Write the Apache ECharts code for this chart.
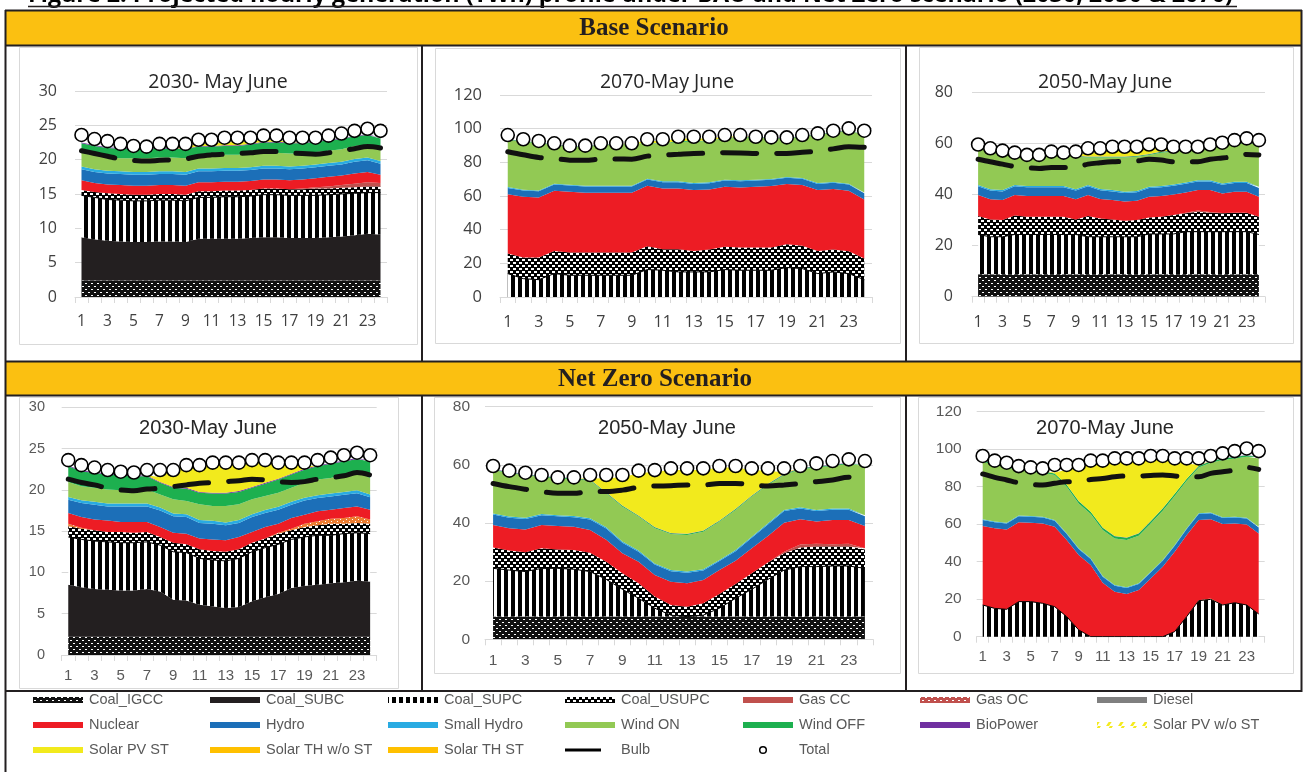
<!DOCTYPE html>
<html>
<head>
<meta charset="utf-8">
<script src="https://cdn.jsdelivr.net/npm/echarts@6/dist/echarts.min.js"></script>
<style>
  html, body { margin: 0; padding: 0; background: #fff; }
  #chart { width: 1304px; height: 772px; }
</style>
</head>
<body>
<div id="chart"></div>
<script>
// ---------- categories ----------
const HOURS = ['1','2','3','4','5','6','7','8','9','10','11','12','13','14','15','16','17','18','19','20','21','22','23','24'];

// ---------- Base scenario, 2030 (GW) ----------
const B30_IGCC   = [2.4,2.4,2.4,2.4,2.4,2.4,2.4,2.4,2.4,2.4,2.4,2.4,2.4,2.4,2.4,2.4,2.4,2.4,2.4,2.4,2.4,2.4,2.4,2.4];
const B30_SUBC   = [6.3,6.0,5.8,5.7,5.6,5.6,5.7,5.7,5.6,6.1,6.1,6.1,6.1,6.2,6.3,6.3,6.2,6.2,6.2,6.3,6.4,6.6,6.8,6.7];
const B30_SUPC   = [6.1,6.1,6.0,6.0,6.0,6.0,6.0,6.0,6.0,6.0,6.0,6.1,6.1,6.1,6.2,6.2,6.2,6.2,6.2,6.2,6.2,6.1,6.0,6.1];
const B30_USUPC  = [0.8,0.8,0.9,0.9,0.9,0.9,0.9,0.9,0.9,0.9,0.9,0.9,0.9,0.9,0.9,0.9,0.9,0.9,1.0,0.9,0.9,0.9,0.9,0.9];
const B30_GASCC  = [0,0,0,0,0,0,0,0,0,0,0,0,0,0,0,0,0,0.1,0.2,0.3,0.4,0.5,0.6,0.5];
const B30_NUC    = [1.4,1.3,1.3,1.3,1.3,1.3,1.3,1.3,1.3,1.3,1.3,1.3,1.3,1.3,1.3,1.3,1.3,1.3,1.3,1.4,1.4,1.5,1.5,1.2];
const B30_HYDRO  = [1.6,1.6,1.6,1.6,1.6,1.6,1.6,1.6,1.6,1.6,1.6,1.6,1.6,1.6,1.6,1.6,1.6,1.6,1.6,1.6,1.6,1.7,1.7,1.6];
const B30_SHYDRO = [0.4,0.4,0.4,0.4,0.4,0.4,0.4,0.4,0.4,0.4,0.4,0.4,0.4,0.4,0.4,0.4,0.4,0.4,0.4,0.4,0.4,0.4,0.4,0.4];
const B30_WON    = [2.0,2.0,1.9,1.9,2.0,2.0,2.0,2.0,2.0,1.9,1.9,1.9,1.9,1.9,1.9,1.9,1.9,1.8,1.8,1.8,1.8,1.9,1.9,1.9];
const B30_WOFF   = [1.4,1.4,1.4,1.4,1.4,1.3,1.3,1.3,1.3,1.3,1.3,1.3,1.3,1.4,1.5,1.5,1.5,1.5,1.5,1.5,1.5,1.4,1.4,1.4];
const B30_BIO    = [0.1,0.1,0.1,0.1,0.1,0.1,0.1,0.1,0.1,0.1,0.1,0.1,0.1,0.1,0.1,0.1,0.1,0.1,0.1,0.1,0.1,0.1,0.1,0.1];
const B30_PVST   = [0,0,0,0,0,0,0,0.1,0.2,0.3,0.4,0.4,0.5,0.4,0.3,0.2,0.1,0,0,0,0,0,0,0];
const B30_TOTAL  = [23.6,23.0,22.7,22.3,22.0,21.9,22.3,22.3,22.3,22.9,22.9,23.2,23.2,23.2,23.5,23.5,23.2,23.2,23.2,23.5,23.8,24.2,24.5,24.2];
const B30_BULB   = [21.3,20.9,20.5,20.1,19.9,19.8,19.9,20.0,20.1,20.5,20.7,20.8,20.9,21.0,21.2,21.2,21.0,20.9,20.8,21.0,21.3,21.6,21.9,21.7];

// ---------- Base scenario, 2070 ----------
const B70_SUPC   = [13.9,10.9,10.3,13.9,12.9,12.9,12.9,12.9,12.9,16.3,15.9,14.9,14.9,14.9,16.3,15.9,15.9,15.9,17.5,16.9,13.9,14.9,13.9,10.3];
const B70_USUPC  = [11.9,12.5,13.1,13.5,13.5,13.5,13.5,13.5,13.5,13.9,12.5,13.5,12.5,13.3,13.5,13.5,13.5,13.5,13.8,13.5,13.5,13.3,13.3,12.5];
const B70_NUC    = [35.3,36.1,35.7,35.7,36.1,35.5,35.5,35.5,35.5,35.9,36.1,36.1,36.1,35.7,35.7,35.7,36.1,36.5,35.8,36.1,36.1,35.9,35.9,35.1];
const B70_HYDRO  = [3.7,3.7,3.7,3.7,3.7,3.7,3.7,3.7,3.7,3.7,3.7,3.7,3.7,3.7,3.7,3.7,3.7,3.7,3.7,3.7,3.7,3.7,3.7,3.7];
const B70_SHYDRO = [0.5,0.5,0.5,0.5,0.5,0.5,0.5,0.5,0.5,0.5,0.5,0.5,0.5,0.5,0.5,0.5,0.5,0.5,0.5,0.5,0.5,0.5,0.5,0.5];
const B70_WON    = [28.0,28.6,28.0,23.0,22.6,22.8,24.2,24.2,24.3,21.0,22.1,23.6,24.6,24.5,24.3,25.5,25.1,24.1,22.9,24.5,28.5,29.3,31.5,34.1];
const B70_WOFF   = [0.3,0.3,0.3,0.3,0.3,0.3,0.3,0.3,0.3,0.3,0.3,0.3,0.3,0.3,0.3,0.3,0.3,0.3,0.3,0.3,0.3,0.3,0.3,0.3];
const B70_BIO    = [0.1,0.1,0.1,0.1,0.1,0.1,0.1,0.1,0.1,0.1,0.1,0.1,0.1,0.1,0.1,0.1,0.1,0.1,0.1,0.1,0.1,0.1,0.1,0.1];
const B70_PVST   = [0,0,0,0,0,0,0,0,0.5,1.0,1.5,1.5,1.5,1.2,0.8,0.4,0,0,0,0,0,0,0,0];
const B70_TOTAL  = [96.2,93.7,92.7,91.3,89.9,89.9,91.3,91.3,91.3,93.7,93.7,95.2,95.2,95.2,96.2,96.2,95.2,94.8,94.8,96.2,97.2,98.8,100.2,98.8];
const B70_BULB   = [86.3,84.5,82.9,82.3,81.3,81.2,81.9,82.0,81.9,83.7,84.3,84.8,85.3,85.5,85.7,85.6,85.3,85.2,85.3,86.0,86.7,88.0,89.3,88.9];

// ---------- Base scenario, 2050 ----------
const B50_IGCC   = [8.8,8.8,8.8,8.8,8.8,8.8,8.8,8.8,8.8,8.8,8.8,8.8,8.8,8.8,8.8,8.8,8.8,8.8,8.8,8.8,8.8,8.8,8.8,8.8];
const B50_SUPC   = [15.6,14.7,14.7,15.6,15.6,15.6,15.6,15.6,15.6,14.7,14.7,14.7,14.7,14.7,15.8,15.8,15.8,16.7,16.7,16.7,16.7,16.7,16.7,15.6];
const B50_USUPC  = [7.2,6.8,6.6,7.4,7.0,7.0,7.0,7.0,5.9,8.1,7.2,6.8,6.3,6.6,6.5,6.8,7.4,7.2,7.8,7.4,7.2,7.4,7.4,7.0];
const B50_GASCC  = [0,0,0,0,0,0,0,0,0,0,0,0,0,0,0,0,0,0.2,0.5,0.3,0.1,0,0,0];
const B50_NUC    = [8.3,7.9,7.8,8.1,8.1,8.1,8.1,8.1,7.9,8.3,7.6,7.6,7.5,7.5,8.1,8.1,8.1,8.0,8.0,8.6,7.7,8.3,8.3,7.8];
const B50_HYDRO  = [3.4,3.4,3.4,3.4,3.4,3.4,3.4,3.4,3.4,3.4,3.4,3.4,3.4,3.4,3.4,3.4,3.4,3.4,3.4,3.4,3.4,3.4,3.4,3.4];
const B50_SHYDRO = [0.5,0.5,0.5,0.5,0.5,0.5,0.5,0.5,0.5,0.5,0.5,0.5,0.5,0.5,0.5,0.5,0.5,0.5,0.5,0.5,0.5,0.5,0.5,0.5];
const B50_WON    = [14.4,15.4,15.1,12.4,12.2,12.2,12.5,12.8,12.8,10.8,12.4,12.8,13.4,13.4,12.5,13.1,12.9,12.7,12.5,12.9,14.7,14.6,15.3,16.4];
const B50_WOFF   = [0.3,0.3,0.3,0.3,0.3,0.3,0.3,0.3,0.3,0.3,0.3,0.3,0.3,0.3,0.3,0.3,0.3,0.3,0.3,0.3,0.3,0.3,0.3,0.3];
const B50_BIO    = [0.1,0.1,0.1,0.1,0.1,0.1,0.1,0.1,0.1,0.1,0.1,0.1,0.1,0.1,0.1,0.1,0.1,0.1,0.1,0.1,0.1,0.1,0.1,0.1];
const B50_PVST   = [0,0,0,0,0,0,0,0,0.3,1.2,1.8,2.2,2.3,2.3,2.0,1.5,0.8,0.2,0,0,0,0,0,0];
const B50_TOTAL  = [59.7,58.2,57.3,56.5,55.6,55.6,56.9,56.5,56.9,58.2,58.2,58.8,58.8,58.8,59.7,59.7,58.8,58.8,58.8,59.7,60.4,61.4,62.1,61.4];
const B50_BULB   = [53.9,52.9,52.0,51.0,50.6,50.3,50.7,50.7,50.7,52.0,52.5,52.9,53.1,53.2,53.9,53.6,52.9,52.9,52.9,53.9,54.4,54.9,55.8,55.6];

// ---------- Net Zero scenario, 2030 ----------
const N30_IGCC   = [2.2,2.2,2.2,2.2,2.2,2.2,2.2,2.2,2.2,2.2,2.2,2.2,2.2,2.2,2.2,2.2,2.2,2.2,2.2,2.2,2.2,2.2,2.2,2.2];
const N30_SUBC   = [6.3,6.0,5.8,5.7,5.6,5.6,5.8,5.5,4.5,4.4,3.9,3.7,3.5,3.6,4.3,4.8,5.2,5.9,6.2,6.3,6.5,6.6,6.8,6.7];
const N30_SUPC   = [5.8,5.8,5.8,5.8,5.8,5.8,5.7,5.6,5.8,5.8,5.6,5.6,5.7,5.9,6.0,6.0,6.0,5.9,5.9,6.0,5.8,5.9,5.8,5.8];
const N30_USUPC  = [1.3,1.3,1.3,1.2,1.3,1.2,1.2,1.0,1.1,1.0,1.1,1.1,1.1,1.1,1.1,1.1,1.3,1.1,1.2,1.2,1.4,1.2,1.2,1.2];
const N30_GASOC  = [0.3,0.1,0,0,0,0,0,0,0,0,0,0,0,0,0,0,0.1,0.2,0.4,0.5,0.6,0.7,0.8,0.5];
const N30_NUC    = [1.3,1.3,1.3,1.4,1.2,1.3,1.2,1.2,1.2,1.3,1.3,1.4,1.4,1.5,1.3,1.4,1.1,1.3,1.1,1.2,1.1,1.2,1.2,1.2];
const N30_HYDRO  = [1.6,1.7,1.8,1.7,1.9,1.9,1.9,2.0,2.0,2.0,1.9,1.9,1.8,1.7,1.8,1.7,1.7,1.6,1.7,1.6,1.6,1.6,1.6,1.5];
const N30_SHYDRO = [0.35,0.35,0.35,0.35,0.35,0.35,0.35,0.35,0.35,0.35,0.35,0.35,0.35,0.35,0.35,0.35,0.35,0.35,0.35,0.35,0.35,0.35,0.35,0.35];
const N30_WON    = [1.8,1.7,1.7,1.7,1.6,1.6,1.7,1.6,1.7,1.6,1.9,1.8,2.0,1.9,1.8,1.7,1.7,1.7,1.8,1.9,1.9,2.1,2.2,2.0];
const N30_WOFF   = [1.9,1.8,1.8,1.8,1.8,1.7,1.6,1.4,1.4,1.5,1.4,1.5,1.5,1.5,1.4,1.5,1.6,1.6,1.6,1.6,1.7,1.6,1.6,2.0];
const N30_BIO    = [0.1,0.1,0.1,0.1,0.1,0.1,0.1,0.1,0.1,0.1,0.1,0.1,0.1,0.1,0.1,0.1,0.1,0.1,0.1,0.1,0.1,0.1,0.1,0.1];
const N30_PVST   = [0,0,0,0,0,0,0,0.6,2.2,2.8,3.4,3.8,3.8,3.6,3.3,2.8,1.9,1.1,0.3,0,0,0,0,0];
const N30_TOTAL  = [23.6,23.0,22.7,22.4,22.2,22.1,22.4,22.4,22.4,23.0,23.0,23.3,23.3,23.3,23.6,23.6,23.3,23.3,23.3,23.6,23.9,24.2,24.5,24.2];
const N30_BULB   = [21.3,20.9,20.6,20.2,20.0,19.9,20.1,20.2,20.4,20.6,20.8,20.9,21.0,21.1,21.3,21.2,21.0,20.9,21.0,21.3,21.5,21.7,22.1,21.8];

// ---------- Net Zero scenario, 2050 ----------
const N50_IGCC   = [7.8,7.8,7.8,7.8,7.8,7.8,7.8,7.8,7.8,7.8,7.8,7.8,7.8,7.8,7.8,7.8,7.8,7.8,7.8,7.8,7.8,7.8,7.8,7.8];
const N50_SUPC   = [16.6,16.0,15.5,16.6,16.6,16.3,15.5,12.8,9.4,6.3,2.9,0.5,0,0.5,2.9,6.3,9.4,12.8,16.0,17.2,17.2,17.4,17.4,16.6];
const N50_USUPC  = [7.2,6.7,6.6,6.9,6.5,6.6,6.5,6.1,5.5,5.2,4.0,3.5,3.4,4.1,4.9,4.9,5.5,5.8,5.8,6.6,6.9,6.7,6.7,6.5];
const N50_GASCC  = [0,0,0,0,0,0,0,0,0,0,0,0,0,0,0,0,0,0,0.5,1.0,1.0,0.8,1.0,0.4];
const N50_NUC    = [7.7,7.7,7.9,8.0,8.1,8.0,7.8,7.5,6.9,7.4,7.4,8.0,8.1,8.0,8.2,8.0,8.6,9.1,10.0,8.7,7.6,8.3,8.1,7.7];
const N50_HYDRO  = [3.6,3.6,3.6,3.4,3.3,3.3,3.6,3.9,3.6,3.4,3.6,3.6,3.6,3.3,3.1,3.3,3.6,4.0,4.0,3.7,3.6,3.6,3.6,3.3];
const N50_SHYDRO = [0.4,0.4,0.4,0.4,0.4,0.4,0.4,0.4,0.4,0.4,0.4,0.4,0.4,0.4,0.4,0.4,0.4,0.4,0.4,0.4,0.4,0.4,0.4,0.4];
const N50_WON    = [14.9,14.9,14.7,12.6,12.7,12.6,13.0,11.7,12.0,11.7,12.1,12.4,12.6,12.9,13.2,13.8,13.8,13.2,12.0,13.1,14.6,14.6,15.3,16.9];
const N50_WOFF   = [0.3,0.3,0.3,0.3,0.3,0.3,0.3,0.3,0.3,0.3,0.3,0.3,0.3,0.3,0.3,0.3,0.3,0.3,0.3,0.3,0.3,0.3,0.3,0.3];
const N50_BIO    = [0.1,0.1,0.1,0.1,0.1,0.1,0.1,0.1,0.1,0.1,0.1,0.1,0.1,0.1,0.1,0.1,0.1,0.1,0.1,0.1,0.1,0.1,0.1,0.1];
const N50_PVST   = [0,0,0,0,0,0,0.3,4.8,9.7,14.5,19.0,21.6,21.9,20.8,18.2,14.2,8.7,4.5,0.5,0,0,0,0,0];
const N50_TOTAL  = [59.6,58.0,57.3,56.5,55.7,55.7,56.5,56.5,56.5,58.0,58.2,58.8,58.8,58.8,59.6,59.6,58.8,58.8,58.8,59.6,60.5,61.3,61.9,61.3];
const N50_BULB   = [53.6,52.5,51.6,50.8,50.2,50.2,50.8,50.8,51.3,52.3,52.7,52.8,53.1,53.1,53.6,53.6,53.1,52.7,53.1,53.6,54.2,54.8,55.7,55.0];

// ---------- Net Zero scenario, 2070 ----------
const N70_SUPC   = [16.9,15.1,14.6,18.7,18.7,17.8,16.0,10.7,3.6,0,0,0,0,0,0,0,2.7,10.7,19.2,19.9,16.9,18.1,16.9,12.1];
const N70_GASOC  = [0,0,0,0,0,0,0,0,0,0,0,0,0,0,0,0,0,0,0.3,0.5,0.2,0,0,0];
const N70_NUC    = [42.1,42.7,42.6,42.3,42.1,42.6,42.7,40.9,40.0,38.2,28.8,24.0,22.8,24.9,31.1,37.3,42.6,43.5,42.7,42.2,43.0,42.3,43.0,43.0];
const N70_HYDRO  = [3.2,3.2,3.2,3.2,3.2,3.2,3.2,3.2,3.2,3.2,3.2,3.2,3.2,3.2,3.2,3.2,3.2,3.2,3.2,3.2,3.2,3.2,3.2,3.2];
const N70_SHYDRO = [0.4,0.4,0.4,0.4,0.4,0.4,0.4,0.4,0.4,0.4,0.4,0.4,0.4,0.4,0.4,0.4,0.4,0.4,0.4,0.4,0.4,0.4,0.4,0.4];
const N70_WON    = [30.7,30.2,29.5,24.3,23.6,23.5,23.9,24.8,23.9,23.6,24.5,24.8,25.2,25.4,25.7,26.3,26.1,25.4,24.5,26.6,30.5,31.1,32.5,36.4];
const N70_WOFF   = [0.8,0.8,0.8,0.8,0.8,0.8,0.8,1.0,1.2,1.2,1.2,1.2,1.2,1.2,1.2,1.2,1.2,1.0,0.8,0.8,0.8,0.8,0.8,0.8];
const N70_BIO    = [0.1,0.1,0.1,0.1,0.1,0.1,0.1,0.1,0.1,0.1,0.1,0.1,0.1,0.1,0.1,0.1,0.1,0.1,0.1,0.1,0.1,0.1,0.1,0.1];
const N70_PVST   = [0,0,0,0,0,0,0.5,8.0,17.8,25.3,34.3,40.0,40.8,38.5,32.9,26.1,17.4,8.0,0.5,0,0,0,0,0];
const N70_TOTAL  = [96.4,93.9,92.8,91.0,90.3,89.8,91.6,91.6,91.6,93.9,93.9,95.1,95.1,95.1,96.4,96.4,95.1,95.1,95.1,96.4,97.8,99.0,100.4,99.0];
const N70_BULB   = [86.8,85.0,83.6,82.1,81.3,80.9,81.8,82.7,82.7,83.8,84.4,85.3,85.7,85.7,86.0,86.2,85.7,85.3,85.3,87.1,88.0,88.9,90.3,89.2];

// ---------- legend layout (text shown in the key) ----------
const KEY_ROWS = [
  ['Coal_IGCC', 'Coal_SUBC', 'Coal_SUPC', 'Coal_USUPC', 'Gas CC', 'Gas OC', 'Diesel'],
  ['Nuclear', 'Hydro', 'Small Hydro', 'Wind ON', 'Wind OFF', 'BioPower', 'Solar PV w/o ST'],
  ['Solar PV ST', 'Solar TH w/o ST', 'Solar TH ST', 'Bulb', 'Total']
];

// ---------- fills ----------
function tile(w, h, paint) {
  const c = document.createElement('canvas');
  c.width = w; c.height = h;
  paint(c.getContext('2d'));
  return { image: c, repeat: 'repeat' };
}
const FILL_IGCC = tile(6, 6, g => {
  g.fillStyle = '#111'; g.fillRect(0, 0, 6, 6);
  g.fillStyle = '#fff'; g.fillRect(1, 1, 2, 1); g.fillRect(4, 4, 2, 1);
});
const FILL_SUPC = tile(7, 4, g => {
  g.fillStyle = '#fff'; g.fillRect(0, 0, 7, 4);
  g.fillStyle = '#000'; g.fillRect(0, 0, 4, 4);
});
const FILL_USUPC = tile(6, 6, g => {
  g.fillStyle = '#000'; g.fillRect(0, 0, 6, 6);
  g.fillStyle = '#fff'; g.fillRect(0, 1, 3, 2); g.fillRect(3, 4, 3, 2);
});
const FILL_GASOC = tile(6, 4, g => {
  g.fillStyle = '#ED7D31'; g.fillRect(0, 0, 6, 4);
  g.fillStyle = '#fff'; g.fillRect(1, 1, 1, 1); g.fillRect(4, 3, 1, 1);
});
const FILL_GASOC_KEY = tile(6, 6, g => {
  g.fillStyle = '#C0504D'; g.fillRect(0, 0, 6, 6);
  g.fillStyle = '#fff'; g.fillRect(1, 1, 2, 1); g.fillRect(4, 4, 2, 1);
});
const FILL_PV_KEY = tile(12, 6, g => {
  g.fillStyle = '#fff'; g.fillRect(0, 0, 12, 6);
  g.fillStyle = '#F4EA1E';
  g.beginPath(); g.moveTo(2, 6); g.lineTo(6, 0); g.lineTo(9, 0); g.lineTo(5, 6); g.closePath(); g.fill();
});

const STACK_ORDER = ['Coal_IGCC','Coal_SUBC','Coal_SUPC','Coal_USUPC','Gas CC','Gas OC','Diesel','Nuclear','Hydro',
  'Small Hydro','Wind ON','Wind OFF','BioPower','Solar PV w/o ST','Solar PV ST','Solar TH w/o ST','Solar TH ST'];

const AREA_FILL = {
  'Coal_IGCC': FILL_IGCC, 'Coal_SUBC': '#231F20', 'Coal_SUPC': FILL_SUPC, 'Coal_USUPC': FILL_USUPC,
  'Gas CC': '#C0504D', 'Gas OC': FILL_GASOC, 'Diesel': '#7F7F7F', 'Nuclear': '#ED1C24',
  'Hydro': '#1C6FB8', 'Small Hydro': '#29ABE2', 'Wind ON': '#92C954', 'Wind OFF': '#1DB04F',
  'BioPower': '#7030A0', 'Solar PV w/o ST': '#F4EA1E', 'Solar PV ST': '#F2EA1D',
  'Solar TH w/o ST': '#FFC000', 'Solar TH ST': '#FFC000'
};
const KEY_FILL = Object.assign({}, AREA_FILL, { 'Gas OC': FILL_GASOC_KEY, 'Solar PV w/o ST': FILL_PV_KEY });

// ---------- panels ----------
const ROW1_FONT = '"Open Sans", "Noto Sans", sans-serif';
const ROW2_FONT = '"Liberation Sans", Arial, sans-serif';

const PANELS = [
  { title: '2030- May June', tx: 218, ty: 82, font: ROW1_FONT, tsize: 19.5, ysize: 16, xsize: 15.5, lab: '#404040',
    grid: { left: 75, top: 91, width: 312, height: 206 }, yMax: 30, yStep: 5, xMargin: 17, yMargin: 18,
    frame: [19, 47, 398, 297],
    layers: { 'Coal_IGCC': B30_IGCC, 'Coal_SUBC': B30_SUBC, 'Coal_SUPC': B30_SUPC, 'Coal_USUPC': B30_USUPC,
      'Gas CC': B30_GASCC, 'Nuclear': B30_NUC, 'Hydro': B30_HYDRO, 'Small Hydro': B30_SHYDRO,
      'Wind ON': B30_WON, 'Wind OFF': B30_WOFF, 'BioPower': B30_BIO, 'Solar PV ST': B30_PVST },
    total: B30_TOTAL, bulb: B30_BULB },
  { title: '2070-May June', tx: 667, ty: 82, font: ROW1_FONT, tsize: 19.5, ysize: 16.5, xsize: 16, lab: '#404040',
    grid: { left: 500, top: 95, width: 372, height: 202 }, yMax: 120, yStep: 20, xMargin: 17, yMargin: 18,
    frame: [435, 48, 465, 295],
    layers: { 'Coal_SUPC': B70_SUPC, 'Coal_USUPC': B70_USUPC, 'Nuclear': B70_NUC, 'Hydro': B70_HYDRO,
      'Small Hydro': B70_SHYDRO, 'Wind ON': B70_WON, 'Wind OFF': B70_WOFF, 'BioPower': B70_BIO,
      'Solar PV ST': B70_PVST },
    total: B70_TOTAL, bulb: B70_BULB },
  { title: '2050-May June', tx: 1105, ty: 82, font: ROW1_FONT, tsize: 19.5, ysize: 16, xsize: 15.8, lab: '#404040',
    grid: { left: 972, top: 92.7, width: 293, height: 204 }, yMax: 80, yStep: 20, xMargin: 18, yMargin: 19,
    frame: [919, 47, 374, 296],
    layers: { 'Coal_IGCC': B50_IGCC, 'Coal_SUPC': B50_SUPC, 'Coal_USUPC': B50_USUPC, 'Gas CC': B50_GASCC,
      'Nuclear': B50_NUC, 'Hydro': B50_HYDRO, 'Small Hydro': B50_SHYDRO, 'Wind ON': B50_WON,
      'Wind OFF': B50_WOFF, 'BioPower': B50_BIO, 'Solar PV ST': B50_PVST },
    total: B50_TOTAL, bulb: B50_BULB },
  { title: '2030-May June', tx: 208, ty: 428, font: ROW2_FONT, tsize: 20, ysize: 14.5, xsize: 15, lab: '#595959',
    grid: { left: 61.7, top: 407.3, width: 315, height: 247.7 }, yMax: 30, yStep: 5, xMargin: 13, yMargin: 16.7,
    frame: [19, 397, 379, 291],
    layers: { 'Coal_IGCC': N30_IGCC, 'Coal_SUBC': N30_SUBC, 'Coal_SUPC': N30_SUPC, 'Coal_USUPC': N30_USUPC,
      'Gas OC': N30_GASOC, 'Nuclear': N30_NUC, 'Hydro': N30_HYDRO, 'Small Hydro': N30_SHYDRO,
      'Wind ON': N30_WON, 'Wind OFF': N30_WOFF, 'BioPower': N30_BIO, 'Solar PV ST': N30_PVST },
    total: N30_TOTAL, bulb: N30_BULB },
  { title: '2050-May June', tx: 667, ty: 428, font: ROW2_FONT, tsize: 20, ysize: 15.5, xsize: 15.5, lab: '#595959',
    grid: { left: 485, top: 406.7, width: 388, height: 232.6 }, yMax: 80, yStep: 20, xMargin: 13.7, yMargin: 15,
    frame: [434, 397, 466, 276],
    layers: { 'Coal_IGCC': N50_IGCC, 'Coal_SUPC': N50_SUPC, 'Coal_USUPC': N50_USUPC, 'Gas CC': N50_GASCC,
      'Nuclear': N50_NUC, 'Hydro': N50_HYDRO, 'Small Hydro': N50_SHYDRO, 'Wind ON': N50_WON,
      'Wind OFF': N50_WOFF, 'BioPower': N50_BIO, 'Solar PV ST': N50_PVST },
    total: N50_TOTAL, bulb: N50_BULB },
  { title: '2070-May June', tx: 1105, ty: 428, font: ROW2_FONT, tsize: 20, ysize: 15.5, xsize: 15, lab: '#595959',
    grid: { left: 976.7, top: 411.7, width: 288, height: 225 }, yMax: 120, yStep: 20, xMargin: 13, yMargin: 15,
    frame: [918, 397, 375, 276],
    layers: { 'Coal_SUPC': N70_SUPC, 'Gas OC': N70_GASOC, 'Nuclear': N70_NUC, 'Hydro': N70_HYDRO,
      'Small Hydro': N70_SHYDRO, 'Wind ON': N70_WON, 'Wind OFF': N70_WOFF, 'BioPower': N70_BIO,
      'Solar PV ST': N70_PVST },
    total: N70_TOTAL, bulb: N70_BULB }
];

// ---------- axes & series ----------
const grids = [], xAxes = [], yAxes = [], series = [];
PANELS.forEach((p, i) => {
  grids.push(Object.assign({ containLabel: false }, p.grid));
  xAxes.push({
    type: 'category', gridIndex: i, data: HOURS, boundaryGap: true,
    axisLine: { lineStyle: { color: '#D9D9D9', width: 1 } },
    axisTick: { show: true, interval: 0, length: 6, lineStyle: { color: '#D9D9D9' } },
    axisLabel: { interval: 1, color: p.lab, fontSize: p.xsize, fontFamily: p.font, margin: p.xMargin },
    splitLine: { show: false }
  });
  yAxes.push({
    type: 'value', gridIndex: i, min: 0, max: p.yMax, interval: p.yStep,
    axisLine: { show: false }, axisTick: { show: false },
    splitLine: { lineStyle: { color: '#D9D9D9', width: 1 } },
    axisLabel: { color: p.lab, fontSize: p.ysize, fontFamily: p.font, margin: p.yMargin }
  });
  STACK_ORDER.forEach(name => {
    const values = p.layers[name];
    if (!values) return;
    series.push({
      type: 'line', name, xAxisIndex: i, yAxisIndex: i, stack: 'gen' + i, data: values,
      symbol: 'none', silent: true,
      lineStyle: name === 'Coal_SUPC' ? { width: 1, color: '#000' } : { width: 0 },
      areaStyle: { color: AREA_FILL[name], opacity: 1 },
      z: 2
    });
  });
  series.push({
    type: 'line', name: 'Bulb', xAxisIndex: i, yAxisIndex: i, data: p.bulb, smooth: 0.35,
    symbol: 'none', silent: true,
    lineStyle: { color: '#111', width: 5, type: [34, 20], cap: 'round' },
    z: 5
  });
  series.push({
    type: 'line', name: 'Total', xAxisIndex: i, yAxisIndex: i, data: p.total,
    symbol: 'circle', symbolSize: 13, showSymbol: true, showAllSymbol: true, silent: true,
    lineStyle: { width: 0 },
    itemStyle: { color: '#fff', borderColor: '#000', borderWidth: 1.6 },
    z: 6
  });
});

// ---------- page furniture: title, table rules, headers, frames, key ----------
const INK = '#231F20';
const YELLOW = '#FBC011';
function text(str, x, y, font, fill, align, valign) {
  return { type: 'text', silent: true, z: 50,
    style: { text: str, x, y, font, fill, align, textAlign: align, verticalAlign: valign, textVerticalAlign: valign } };
}
function rule(x1, y1, x2, y2, w) {
  return { type: 'line', silent: true, z: 60, shape: { x1, y1, x2, y2 }, style: { stroke: INK, lineWidth: w || 2 } };
}
const gfx = [];
gfx.push({ type: 'rect', silent: true, z: 10, shape: { x: 6, y: 11, width: 1295, height: 34 }, style: { fill: YELLOW } });
gfx.push({ type: 'rect', silent: true, z: 10, shape: { x: 6, y: 362, width: 1295, height: 33 }, style: { fill: YELLOW } });
gfx.push(text('Figure 2: Projected hourly generation (TWh) profile under BAU and Net Zero scenario (2030, 2050 & 2070)',
  28, 7, 'bold 23.3px "Open Sans", sans-serif', '#000', 'left', 'bottom'));
gfx.push(rule(28, 6.5, 1237, 6.5, 1.5));
gfx.push(text('Base Scenario', 654, 29, 'bold 25px "Liberation Serif", serif', INK, 'center', 'middle'));
gfx.push(text('Net Zero Scenario', 655, 380, 'bold 25px "Liberation Serif", serif', INK, 'center', 'middle'));
// table rules
gfx.push(rule(5, 10.5, 1302, 10.5));
gfx.push(rule(5.5, 10, 5.5, 772));
gfx.push(rule(1301.5, 10, 1301.5, 692));
gfx.push(rule(5, 45.5, 1302, 45.5));
gfx.push(rule(5, 361.5, 1302, 361.5));
gfx.push(rule(5, 395.5, 1302, 395.5));
gfx.push(rule(5, 691, 1302, 691));
[422, 906].forEach(x => { gfx.push(rule(x, 45, x, 362)); gfx.push(rule(x, 395, x, 691)); });
// chart frames and titles
PANELS.forEach(p => {
  const f = p.frame;
  gfx.push({ type: 'rect', silent: true, z: 1, shape: { x: f[0] + 0.5, y: f[1] + 0.5, width: f[2], height: f[3] },
    style: { fill: null, stroke: '#D9D9D9', lineWidth: 1 } });
  gfx.push(text(p.title, p.tx, p.ty, p.tsize + 'px ' + p.font, '#262626', 'center', 'middle'));
});
// key
const KEY_X = [33, 210, 388, 565, 743, 920, 1097];
const KEY_Y = [700, 725, 750];
const KEY_FONT = '14.5px "Liberation Sans", Arial, sans-serif';
KEY_ROWS.forEach((row, r) => {
  row.forEach((name, c) => {
    const x = KEY_X[c], y = KEY_Y[r];
    if (name === 'Bulb') {
      gfx.push({ type: 'line', silent: true, z: 20, shape: { x1: x, y1: y, x2: x + 36, y2: y },
        style: { stroke: '#000', lineWidth: 3 } });
    } else if (name === 'Total') {
      gfx.push({ type: 'circle', silent: true, z: 20, shape: { cx: x + 20, cy: y, r: 3.3 },
        style: { fill: '#fff', stroke: '#000', lineWidth: 1.5 } });
    } else {
      gfx.push({ type: 'rect', silent: true, z: 20, shape: { x, y: y - 3, width: 50, height: 6 },
        style: { fill: KEY_FILL[name] } });
    }
    gfx.push(text(name, x + 56, y, KEY_FONT, '#595959', 'left', 'middle'));
  });
});

const chart = echarts.init(document.getElementById('chart'), null, { renderer: 'canvas' });
chart.setOption({
  animation: false,
  backgroundColor: '#fff',
  grid: grids,
  xAxis: xAxes,
  yAxis: yAxes,
  series,
  graphic: { elements: gfx }
});
</script>
</body>
</html>
